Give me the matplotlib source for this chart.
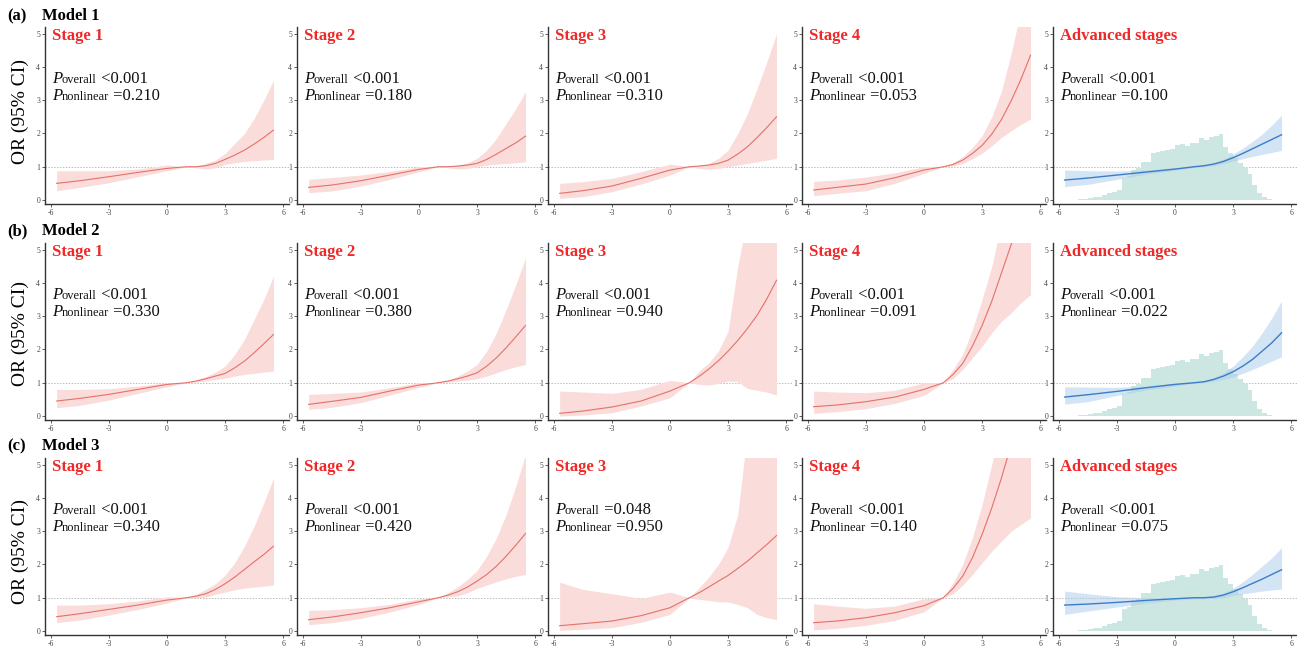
import numpy as np
import matplotlib
matplotlib.use('Agg')
import matplotlib.pyplot as plt

plt.rcParams['font.family'] = ['Liberation Serif', 'DejaVu Serif']
plt.rcParams['axes.unicode_minus'] = False

x = [-5.7, -4.5, -3, -1.5, 0, 1, 1.5, 2, 2.5, 3, 3.5, 4, 4.5, 5, 5.5]

stages = ['Stage 1', 'Stage 2', 'Stage 3', 'Stage 4', 'Advanced stages']
models = ['Model 1', 'Model 2', 'Model 3']
tags = ['(a)', '(b)', '(c)']

# model 1 : OR, lower and upper CI  (rows = stage 1..4, advanced)
or_m1 = [[0.5, 0.58, 0.7, 0.83, 0.95, 1.0, 1.0, 1.03, 1.1, 1.22, 1.35, 1.5, 1.68, 1.88, 2.1],
         [0.38, 0.45, 0.58, 0.75, 0.92, 1.0, 1.0, 1.02, 1.05, 1.1, 1.22, 1.38, 1.55, 1.72, 1.92],
         [0.2, 0.28, 0.42, 0.65, 0.9, 1.0, 1.02, 1.05, 1.1, 1.2, 1.38, 1.6, 1.88, 2.18, 2.5],
         [0.3, 0.38, 0.48, 0.67, 0.9, 1.0, 1.07, 1.2, 1.4, 1.64, 1.98, 2.42, 2.98, 3.62, 4.35],
         [0.6, 0.66, 0.75, 0.84, 0.93, 1.0, 1.03, 1.08, 1.16, 1.27, 1.4, 1.54, 1.68, 1.82, 1.96]]
lo_m1 = [[0.28, 0.38, 0.52, 0.7, 0.88, 1.0, 0.97, 0.93, 0.97, 1.07, 1.12, 1.16, 1.18, 1.2, 1.22],
         [0.22, 0.27, 0.42, 0.62, 0.85, 1.0, 0.97, 0.93, 0.95, 1.0, 1.05, 1.08, 1.1, 1.12, 1.15],
         [0.05, 0.1, 0.25, 0.48, 0.75, 1.0, 0.95, 0.92, 0.95, 1.0, 1.05, 1.1, 1.15, 1.2, 1.25],
         [0.13, 0.2, 0.28, 0.5, 0.8, 1.0, 1.02, 1.1, 1.24, 1.41, 1.63, 1.88, 2.08, 2.27, 2.44],
         [0.4, 0.47, 0.62, 0.78, 0.89, 0.98, 1.0, 1.03, 1.1, 1.17, 1.24, 1.31, 1.37, 1.43, 1.49]]
hi_m1 = [[0.88, 0.88, 0.88, 0.93, 1.05, 1.0, 1.02, 1.1, 1.2, 1.4, 1.7, 2.0, 2.45, 3.0, 3.6],
         [0.62, 0.68, 0.75, 0.86, 1.0, 1.0, 1.0, 1.05, 1.12, 1.25, 1.5, 1.85, 2.3, 2.75, 3.25],
         [0.5, 0.55, 0.65, 0.85, 1.08, 1.0, 1.03, 1.1, 1.25, 1.5, 2.0, 2.6, 3.35, 4.15, 5.0],
         [0.56, 0.6, 0.69, 0.82, 1.0, 1.0, 1.12, 1.3, 1.58, 1.93, 2.5, 3.27, 4.4, 5.7, 7.0],
         [0.9, 0.88, 0.87, 0.9, 0.97, 1.02, 1.06, 1.12, 1.23, 1.38, 1.56, 1.76, 1.98, 2.25, 2.55]]

# model 2
or_m2 = [[0.45, 0.53, 0.65, 0.8, 0.95, 1.0, 1.05, 1.12, 1.2, 1.28, 1.45, 1.65, 1.9, 2.17, 2.45],
         [0.35, 0.44, 0.56, 0.75, 0.93, 1.0, 1.05, 1.12, 1.2, 1.3, 1.5, 1.75, 2.05, 2.38, 2.72],
         [0.08, 0.15, 0.27, 0.45, 0.75, 1.0, 1.19, 1.41, 1.66, 1.95, 2.27, 2.63, 3.03, 3.52, 4.08],
         [0.28, 0.33, 0.43, 0.57, 0.8, 1.0, 1.25, 1.58, 2.1, 2.72, 3.45, 4.3, 5.15, 6.1, 7.0],
         [0.57, 0.64, 0.74, 0.85, 0.95, 1.0, 1.03, 1.1, 1.2, 1.33, 1.5, 1.7, 1.95, 2.2, 2.5]]
lo_m2 = [[0.25, 0.32, 0.48, 0.68, 0.88, 1.0, 1.02, 1.05, 1.1, 1.14, 1.2, 1.25, 1.28, 1.32, 1.35],
         [0.2, 0.26, 0.4, 0.63, 0.86, 1.0, 1.02, 1.05, 1.08, 1.12, 1.2, 1.3, 1.4, 1.48, 1.55],
         [0.0, 0.03, 0.1, 0.3, 0.55, 1.0, 0.95, 0.93, 0.98, 1.05, 1.03, 0.83, 0.77, 0.72, 0.63],
         [0.08, 0.13, 0.22, 0.38, 0.62, 1.0, 1.12, 1.4, 1.75, 2.1, 2.5, 2.85, 3.1, 3.4, 3.65],
         [0.36, 0.43, 0.62, 0.78, 0.9, 0.98, 1.0, 1.05, 1.1, 1.18, 1.28, 1.4, 1.52, 1.65, 1.78]]
hi_m2 = [[0.8, 0.8, 0.82, 0.9, 1.0, 1.0, 1.08, 1.18, 1.32, 1.5, 1.85, 2.3, 2.9, 3.5, 4.2],
         [0.65, 0.68, 0.72, 0.85, 1.0, 1.0, 1.08, 1.2, 1.35, 1.55, 1.95, 2.5, 3.2, 3.95, 4.75],
         [0.75, 0.72, 0.68, 0.8, 1.07, 1.0, 1.35, 1.6, 1.95, 2.55, 4.5, 6.0, 7.5, 8.5, 9.5],
         [0.75, 0.72, 0.7, 0.77, 1.0, 1.0, 1.4, 1.85, 2.6, 3.5, 4.5, 5.8, 7.0, 8.5, 10.0],
         [0.88, 0.87, 0.86, 0.9, 0.99, 1.02, 1.06, 1.15, 1.3, 1.5, 1.78, 2.1, 2.5, 2.95, 3.45]]

# model 3
or_m3 = [[0.43, 0.52, 0.65, 0.78, 0.93, 1.0, 1.05, 1.12, 1.25, 1.42, 1.62, 1.85, 2.08, 2.3, 2.55],
         [0.34, 0.42, 0.55, 0.7, 0.88, 1.0, 1.08, 1.18, 1.32, 1.5, 1.7, 1.95, 2.25, 2.58, 2.93],
         [0.16, 0.22, 0.3, 0.46, 0.7, 1.0, 1.15, 1.32, 1.5, 1.67, 1.88, 2.1, 2.35, 2.6, 2.87],
         [0.25, 0.3, 0.4, 0.55, 0.76, 1.0, 1.28, 1.65, 2.2, 2.9, 3.7, 4.6, 5.6, 6.6, 7.6],
         [0.78, 0.81, 0.86, 0.92, 0.97, 1.0, 1.0, 1.02, 1.08, 1.18, 1.3, 1.43, 1.56, 1.7, 1.84]]
lo_m3 = [[0.25, 0.33, 0.48, 0.65, 0.84, 1.0, 1.0, 1.02, 1.1, 1.17, 1.24, 1.29, 1.32, 1.35, 1.38],
         [0.19, 0.25, 0.38, 0.57, 0.8, 1.0, 1.03, 1.06, 1.15, 1.28, 1.38, 1.48, 1.57, 1.64, 1.7],
         [0.02, 0.05, 0.1, 0.26, 0.5, 1.0, 0.95, 0.92, 0.88, 0.87, 0.8, 0.7, 0.5, 0.4, 0.34],
         [0.03, 0.08, 0.17, 0.32, 0.58, 1.0, 1.12, 1.38, 1.7, 2.05, 2.4, 2.7, 3.0, 3.2, 3.4],
         [0.5, 0.6, 0.72, 0.84, 0.93, 0.97, 0.97, 0.98, 1.0, 1.07, 1.12, 1.16, 1.2, 1.23, 1.26]]
hi_m3 = [[0.78, 0.78, 0.82, 0.9, 1.03, 1.0, 1.1, 1.25, 1.42, 1.68, 2.05, 2.55, 3.15, 3.85, 4.6],
         [0.62, 0.64, 0.7, 0.8, 0.97, 1.0, 1.15, 1.33, 1.55, 1.82, 2.25, 2.8, 3.5, 4.35, 5.3],
         [1.47, 1.25, 1.12, 0.98, 1.17, 1.0, 1.3, 1.62, 2.0, 2.52, 3.5, 6.0, 7.5, 9.0, 10.0],
         [0.82, 0.75, 0.68, 0.75, 0.97, 1.0, 1.45, 2.0, 2.8, 3.8, 5.0, 6.5, 8.0, 9.5, 11.0],
         [1.2, 1.12, 1.03, 1.0, 1.0, 1.02, 1.03, 1.07, 1.15, 1.28, 1.48, 1.7, 1.95, 2.2, 2.5]]

p_overall = [['<0.001', '<0.001', '<0.001', '<0.001', '<0.001'],
             ['<0.001', '<0.001', '<0.001', '<0.001', '<0.001'],
             ['<0.001', '<0.001', '=0.048', '<0.001', '<0.001']]
p_nonlin = [['=0.210', '=0.180', '=0.310', '=0.053', '=0.100'],
            ['=0.330', '=0.380', '=0.940', '=0.091', '=0.022'],
            ['=0.340', '=0.420', '=0.950', '=0.140', '=0.075']]

# distribution histogram shown behind the advanced stage curve (bins of 0.25 from -5)
hist_start = -5.0
hist_w = 0.25
hist_h = [0.02, 0.04, 0.06, 0.08, 0.1, 0.14, 0.2, 0.25, 0.3, 0.65,
          0.72, 0.9, 0.95, 1.15, 1.15, 1.42, 1.45, 1.48, 1.5, 1.52,
          1.65, 1.68, 1.62, 1.7, 1.72, 1.85, 1.8, 1.9, 1.92, 1.97,
          1.6, 1.4, 1.25, 1.12, 0.95, 0.78, 0.45, 0.22, 0.1, 0.02]

all_or = [or_m1, or_m2, or_m3]
all_lo = [lo_m1, lo_m2, lo_m3]
all_hi = [hi_m1, hi_m2, hi_m3]

W, H = 1297., 652.
fig = plt.figure(figsize=(W / 100, H / 100), dpi=100)

col_px = [45, 297, 548, 802, 1053]
row_px = [27, 243, 458]
aw, ah = 244, 177
label_y = [112, 333, 552]
head_y = [20, 235, 450]

red_title = '#F02828'
red_line, red_band = '#E6706A', '#FADCDA'
blue_line, blue_band = '#3C7DC8', '#A9CBEB'
hist_col = '#CCE6E1'


def ptext(ax, y, sub, val):
    t = ax.text(0.028, y, 'P', transform=ax.transAxes, fontsize=12,
                style='italic', va='baseline', ha='left', color='#111')
    t2 = ax.annotate(sub, xy=(1, 0), xycoords=t, xytext=(0, 0.7),
                     textcoords='offset points', fontsize=9, va='bottom',
                     ha='left', color='#111')
    ax.annotate(' ' + val, xy=(1, 0), xycoords=t2, xytext=(0, -0.7),
                textcoords='offset points', fontsize=12, va='bottom',
                ha='left', color='#111')


hb = np.arange(len(hist_h)) * hist_w + hist_start

for r in range(3):
    fig.text(7 / W, 1 - head_y[r] / H, tags[r], fontsize=12, fontweight='bold',
             va='baseline', ha='left')
    fig.text(42 / W, 1 - head_y[r] / H, models[r], fontsize=12, fontweight='bold',
             va='baseline', ha='left')
    fig.text(20 / W, 1 - label_y[r] / H, 'OR (95% CI)', fontsize=14,
             rotation=90, va='center', ha='center')
    for c in range(5):
        ax = fig.add_axes([col_px[c] / W, 1 - (row_px[r] + ah) / H, aw / W, ah / H])
        ax.set_xlim(-6.3, 6.3)
        ax.set_ylim(-0.12, 5.2)
        ax.axhline(1, color='#bdbdbd', lw=0.7, ls=(0, (1.5, 1.5)), zorder=1)
        if c == 4:
            ax.bar(hb, hist_h, width=hist_w, align='edge', color=hist_col,
                   lw=0, zorder=1)
            ax.fill_between(x, all_lo[r][c], all_hi[r][c], color=blue_band,
                            alpha=0.5, lw=0, zorder=2)
            ax.plot(x, all_or[r][c], color=blue_line, lw=1.0, zorder=3)
        else:
            ax.fill_between(x, all_lo[r][c], all_hi[r][c], color=red_band,
                            lw=0, zorder=2)
            ax.plot(x, all_or[r][c], color=red_line, lw=0.8, zorder=3)

        for s in ['top', 'right']:
            ax.spines[s].set_visible(False)
        for s in ['left', 'bottom']:
            ax.spines[s].set_color('#333333')
            ax.spines[s].set_linewidth(1.0)
        ax.set_xticks([-6, -3, 0, 3, 6])
        ax.set_xticklabels(['-6', '-3', '0', '3', '6'])
        ax.set_yticks([0, 1, 2, 3, 4, 5])
        ax.tick_params(labelsize=5.5, length=2, width=0.6, pad=1.5,
                       colors='#444444')

        ax.text(0.028, 0.995, stages[c], transform=ax.transAxes, fontsize=12,
                fontweight='bold', color=red_title, va='top', ha='left')
        ptext(ax, 0.685, 'overall', p_overall[r][c])
        ptext(ax, 0.588, 'nonlinear', p_nonlin[r][c])

fig.savefig('out.png', dpi=100)
